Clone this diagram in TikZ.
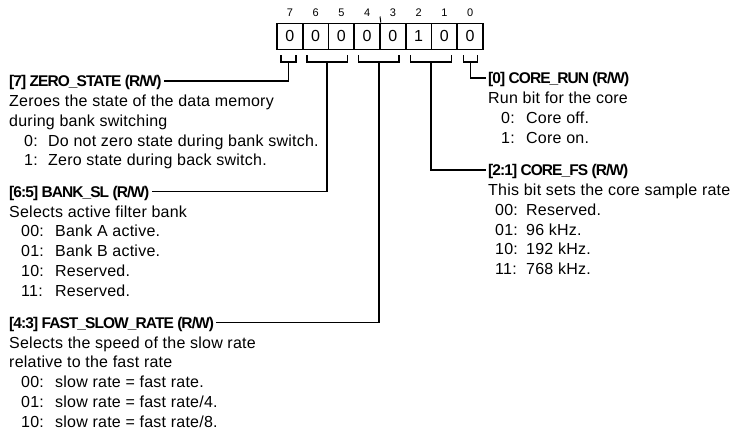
\documentclass[tikz,border=0pt]{standalone}
\usepackage{fontspec}
\setmainfont{Liberation Sans}
\newfontfamily\bodyfont[LetterSpace=1.5]{Liberation Sans}
\newfontfamily\headfont[LetterSpace=-6]{Liberation Sans}
\newcommand{\codebox}[2]{\makebox[#1][l]{#2}}
\begin{document}
\begin{tikzpicture}[x=1pt,y=-1pt,
  cell/.style={draw,line width=1.6pt,minimum width=25.75pt,minimum height=26pt,inner sep=0pt,font=\fontsize{16}{18}\selectfont},
  bitlbl/.style={inner sep=0pt,font=\fontsize{11}{13}\selectfont},
  head/.style={inner xsep=2pt,inner ysep=0pt,text height=11.2pt,text depth=0pt,font=\headfont\fontsize{15.5}{18}\selectfont\bfseries},
  body/.style={inner sep=0pt,anchor=base west,font=\bodyfont\fontsize{16}{18}\selectfont},
  wire/.style={line width=1.6pt},
  brk/.style={line width=1.6pt}]
\useasboundingbox (0,0) rectangle (738,432);

% register cells
\node[cell] (c7) at (289.875,36.3) {0};
\node[cell] (c6) at (315.625,36.3) {0};
\node[cell] (c5) at (341.375,36.3) {0};
\node[cell] (c4) at (367.125,36.3) {0};
\node[cell] (c3) at (392.875,36.3) {0};
\node[cell] (c2) at (418.625,36.3) {1};
\node[cell] (c1) at (444.375,36.3) {0};
\node[cell] (c0) at (470.125,36.3) {0};

% bit numbers
\node[bitlbl] (n7) at (289.875,13) {7};
\node[bitlbl] (n6) at (315.625,13) {6};
\node[bitlbl] (n5) at (341.375,13) {5};
\node[bitlbl] (n4) at (367.125,13) {4};
\node[bitlbl] (n3) at (392.875,13) {3};
\node[bitlbl] (n2) at (418.625,13) {2};
\node[bitlbl] (n1) at (444.375,13) {1};
\node[bitlbl] (n0) at (470.125,13) {0};
\coordinate (tick) at (380,16.5);
\draw[line width=1pt] (c4.north east) -- (tick);

% brackets
\draw[brk] (281,55) |- (296,62) -- (296,55);
\draw[brk] (307,55) |- (347.5,62) -- (347.5,55);
\draw[brk] (358.5,55) |- (399,62) -- (399,55);
\draw[brk] (410.5,55) |- (451.5,62) -- (451.5,55);
\draw[brk] (463.5,55) |- (477.5,62) -- (477.5,55);
\coordinate (s7) at (288.5,62);
\coordinate (s65) at (327.25,62);
\coordinate (s43) at (378.75,62);
\coordinate (s21) at (431,62);
\coordinate (s0) at (470.5,62);

% left column: ZERO_STATE
\node[head,anchor=west] (hzero) at (7,81) {[7] ZERO\_STATE (R/W)};
\node[body] (z1) at (9,106.5) {Zeroes the state of the data memory};
\node[body] (z2) at (9,126.3) {during bank switching};
\node[body] (z3) at (24,146.1) {\codebox{24pt}{0:}Do not zero state during bank switch.};
\node[body] (z4) at (24,165.9) {\codebox{24pt}{1:}Zero state during back switch.};

% BANK_SL
\node[head,anchor=west] (hbank) at (7,191.5) {[6:5] BANK\_SL (R/W)};
\node[body] (b1) at (9,217.0) {Selects active filter bank};
\node[body] (b2) at (21,236.8) {\codebox{34pt}{00:}Bank A active.};
\node[body] (b3) at (21,256.6) {\codebox{34pt}{01:}Bank B active.};
\node[body] (b4) at (21,276.4) {\codebox{34pt}{10:}Reserved.};
\node[body] (b5) at (21,296.2) {\codebox{34pt}{11:}Reserved.};

% FAST_SLOW_RATE
\node[head,anchor=west] (hfast) at (7,322.5) {[4:3] FAST\_SLOW\_RATE (R/W)};
\node[body] (f1) at (9,348.0) {Selects the speed of the slow rate};
\node[body] (f2) at (9,367.8) {relative to the fast rate};
\node[body] (f3) at (21,387.6) {\codebox{34pt}{00:}slow rate = fast rate.};
\node[body] (f4) at (21,407.4) {\codebox{34pt}{01:}slow rate = fast rate/4.};
\node[body] (f5) at (21,427.2) {\codebox{34pt}{10:}slow rate = fast rate/8.};

% right column: CORE_RUN
\node[head,anchor=west] (hrun) at (486,78) {[0] CORE\_RUN (R/W)};
\node[body] (r1) at (488,103.5) {Run bit for the core};
\node[body] (r2) at (501,123.3) {\codebox{25pt}{0:}Core off.};
\node[body] (r3) at (501,143.1) {\codebox{25pt}{1:}Core on.};

% CORE_FS
\node[head,anchor=west] (hfs) at (486,170) {[2:1] CORE\_FS (R/W)};
\node[body] (q1) at (488,195.5) {This bit sets the core sample rate};
\node[body] (q2) at (495,215.3) {\codebox{31pt}{00:}Reserved.};
\node[body] (q3) at (495,235.1) {\codebox{31pt}{01:}96 kHz.};
\node[body] (q4) at (495,254.9) {\codebox{31pt}{10:}192 kHz.};
\node[body] (q5) at (495,274.7) {\codebox{31pt}{11:}768 kHz.};

% connectors
\draw[wire] (s7) |- (hzero.east);
\draw[wire] (s65) |- (hbank.east);
\draw[wire] (s43) |- (hfast.east);
\draw[wire] (s21) |- (hfs.west);
\draw[wire] (s0) |- (hrun.west);
\end{tikzpicture}
\end{document}
